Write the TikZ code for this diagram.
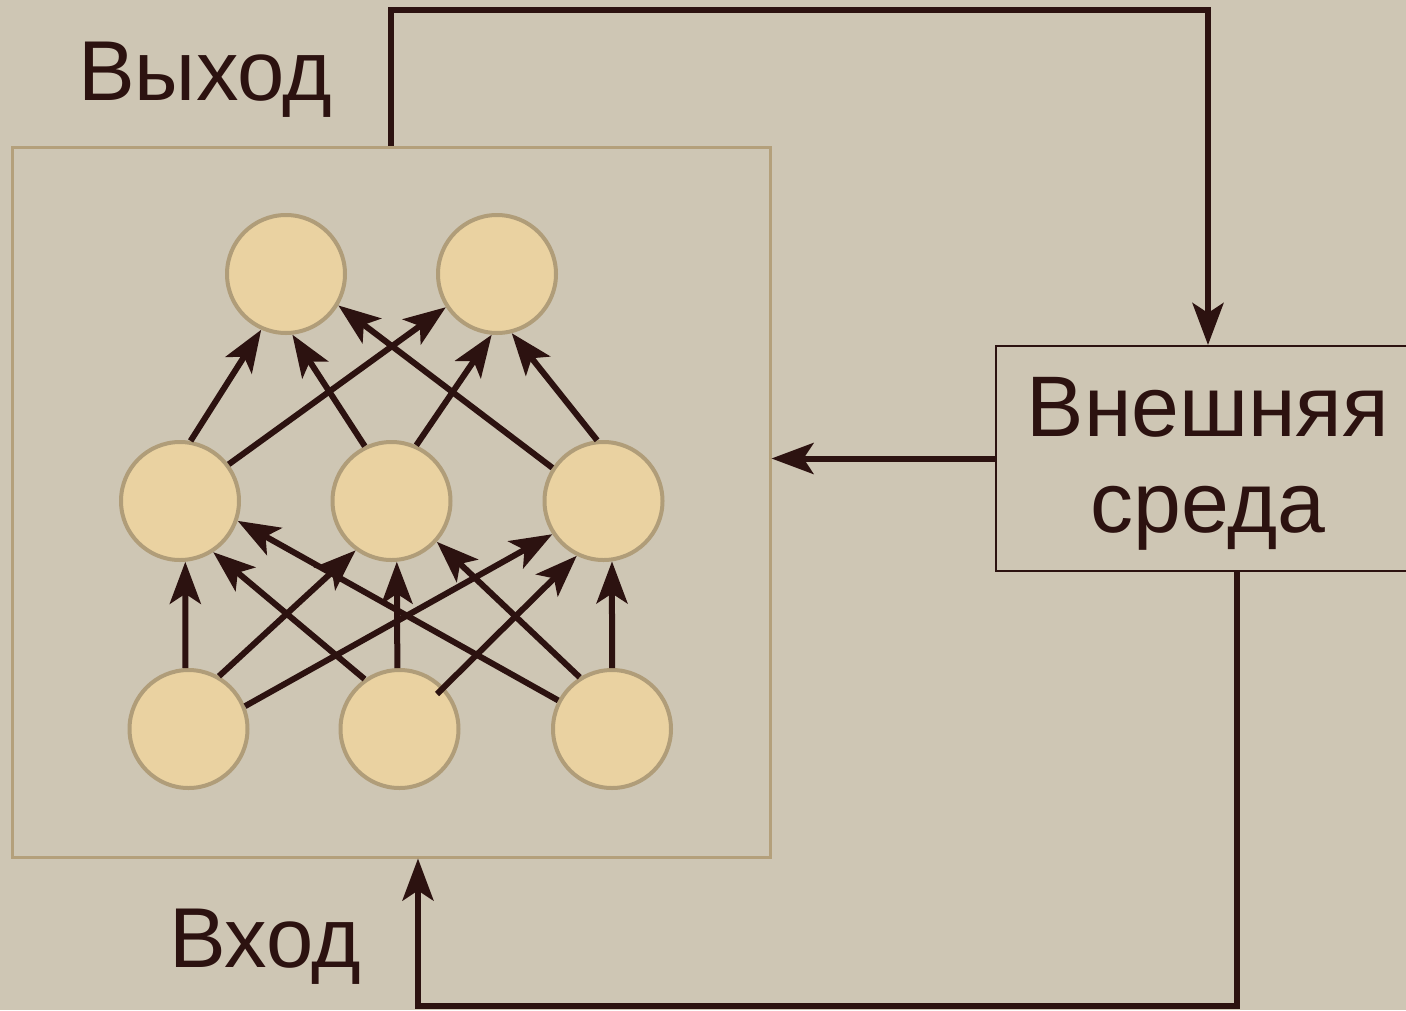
\documentclass[tikz,border=0pt]{standalone}
\usepackage{fontspec}
\setmainfont{Liberation Sans}
\usetikzlibrary{arrows.meta,calc}
\definecolor{bg}{HTML}{CEC6B4}
\definecolor{ink}{HTML}{2C1210}
\definecolor{neuronfill}{HTML}{EAD2A1}
\definecolor{neuronrim}{HTML}{B09D79}
\definecolor{framecol}{HTML}{B4A07B}
\begin{document}
\begin{tikzpicture}[x=1pt,y=-1pt,
  neuron/.style={circle, draw=neuronrim, fill=neuronfill, line width=4pt,
    minimum size=118pt, inner sep=0pt},
  tip/.style={-{Stealth[length=42pt,width=31pt,inset=10pt]}},
  link/.style={draw=ink, line width=6pt, tip},
  wire/.style={draw=ink, line width=6pt},
  label/.style={text=ink, font=\fontsize{85}{96}\selectfont, inner sep=0pt}]
  % canvas
  \fill[bg] (0,0) rectangle (1406,1010);
  \useasboundingbox (0,0) rectangle (1406,1010);

  % network frame and environment block
  \node[draw=framecol, line width=3pt, minimum width=758pt, minimum height=710pt, inner sep=0pt]
    (net) at (391,502) {};
  \node[draw=ink, line width=2pt, minimum width=424pt, minimum height=225pt, inner sep=0pt,
    align=center, text=ink, font=\fontsize{86}{96}\selectfont]
    (env) at (1208,458.5) {\rule{0pt}{69pt}Внешняя\\среда};

  % labels
  \node[label, anchor=base west] (outlabel) at (78,100) {Выход};
  \node[label, anchor=base west] (inlabel) at (169,967) {Вход};

  % neurons
  \node[neuron] (t1) at (286,274) {};
  \node[neuron] (t2) at (497,274) {};
  \node[neuron] (m1) at (180,501) {};
  \node[neuron] (m2) at (391.5,501) {};
  \node[neuron] (m3) at (603.5,501) {};
  \node[neuron] (b1) at (188.5,729) {};
  \node[neuron] (b2) at (399.5,729) {};
  \node[neuron] (b3) at (612,729) {};

  % hidden -> output
  \draw[link] (m1.80)  -- (t1.246);
  \draw[link] (m1.37)  -- (t2.213);
  \draw[link] (m2.116) -- (t1.276);
  \draw[link] (m2.66)  -- (t2.265);
  \draw[link] (m3.147) -- (t1.329);
  \draw[link] (m3.96)  -- (t2.284);

  % input -> hidden
  \draw[link] (b1.93)  -- (m1.275);
  \draw[link] (b1.60)  -- (m2.234);
  \draw[link] (b1.22)  -- (m3.213);
  \draw[link] (b2.125) -- (m1.303);
  \draw[link] (b2.92)  -- (m2.275);
  \draw[link] ($(b2)+(37.5,-35)$) -- (m3.244);
  \draw[link] (b3.152) -- (m1.341);
  \draw[link] (b3.122) -- (m2.318);
  \draw[link] (b3.90)  -- (m3.278);

  % feedback loop through the environment
  \coordinate (toprail) at (0,10);
  \coordinate (botrail) at (0,1006);
  \coordinate (envout) at ($(env.south)+(29,0)$);
  \coordinate (netin) at ($(net.south)+(27,0)$);
  \draw[wire, tip] (net.north) -- (net.north |- toprail) -| (env.north);
  \draw[wire, tip] (env.west) -- (env.west -| net.east);
  \draw[wire, tip] (envout) -- (envout |- botrail) -| (netin);
\end{tikzpicture}
\end{document}
